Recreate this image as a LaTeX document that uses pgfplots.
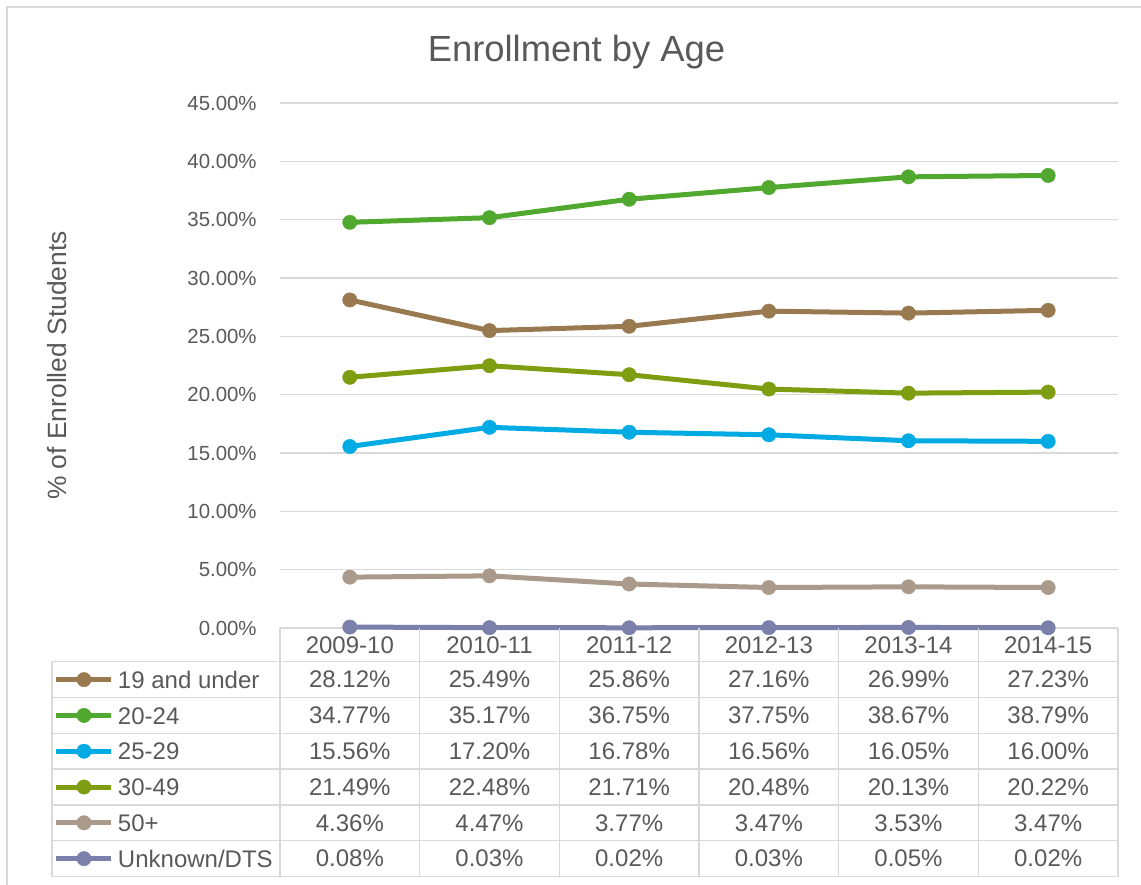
\documentclass[border=0pt]{standalone}
\usepackage{fontspec}
\setmainfont{Liberation Sans}
\usepackage{pgfplots}
\usepackage{pgfplotstable}
\pgfplotsset{compat=1.18}
\definecolor{txt}{HTML}{595959}
\definecolor{gridc}{HTML}{D9D9D9}
\definecolor{cA}{RGB}{153,121,79}
\definecolor{cB}{RGB}{80,168,46}
\definecolor{cC}{RGB}{0,170,227}
\definecolor{cD}{RGB}{127,157,16}
\definecolor{cE}{RGB}{170,154,140}
\definecolor{cF}{RGB}{122,128,170}
\pgfkeys{/pgf/number format/assume math mode=true}
\pgfplotstableread{
x a b c d e f
0 28.12 34.77 15.56 21.49 4.36 0.08
1 25.49 35.17 17.20 22.48 4.47 0.03
2 25.86 36.75 16.78 21.71 3.77 0.02
3 27.16 37.75 16.56 20.48 3.47 0.03
4 26.99 38.67 16.05 20.13 3.53 0.05
5 27.23 38.79 16.00 20.22 3.47 0.02
}\datatable
\begin{document}
\begin{tikzpicture}[font=\fontsize{12}{14}\selectfont, text=txt]
\useasboundingbox (-140pt,-128pt) rectangle (430.5pt,314pt);
\draw[gridc, line width=0.75pt] (-136.5pt,-130pt) -- (-136.5pt,310.5pt) -- (440pt,310.5pt);
\begin{axis}[
  at={(0pt,0pt)}, anchor=south west,
  scale only axis, width=419pt, height=262.5pt,
  xmin=-0.5, xmax=5.5, ymin=0, ymax=45,
  ytick={0,5,...,45}, xtick=\empty,
  axis line style={draw=none},
  ymajorgrids, grid style={gridc, line width=0.75pt},
  major tick length=0pt,
  yticklabel={\pgfmathprintnumber[fixed,fixed zerofill,precision=2]{\tick}\%},
  yticklabel style={font=\fontsize{10.2}{12}\selectfont, text=txt, inner sep=0pt, anchor=east, xshift=-11.5pt},
  title={Enrollment by Age},
  title style={at={(axis description cs:0.3538,1.0560)}, anchor=base, font=\fontsize{18.2}{22}\selectfont, text=txt, inner sep=0pt},
  ylabel={\% of Enrolled Students},
  ylabel style={at={(axis description cs:-0.2661,0.5)}, anchor=center, font=\fontsize{13.2}{16}\selectfont, text=txt, inner sep=0pt},
  clip=false,
  every axis plot/.append style={line width=2.5pt, mark=*, mark size=3.6pt, mark options={solid, line width=0.2pt}},
  legend image code/.code={\draw[mark repeat=2,mark phase=2,#1] plot coordinates {(0pt,0pt) (13.75pt,0pt) (27.5pt,0pt)};},
  legend style={at={(-0.2697,-0.06419)}, anchor=north west, draw=none, fill=none,
    inner sep=0pt, outer sep=0pt, row sep=0pt,
    font=\fontsize{12}{14}\selectfont, text=txt,
    nodes={inner xsep=2pt, inner ysep=0pt, text height=13.25pt, text depth=4.65pt}},
  legend cell align=left,
]
\addplot[color=cA] table[x=x,y=a] {\datatable};
\addlegendentry{19 and under}
\addplot[color=cB] table[x=x,y=b] {\datatable};
\addlegendentry{20-24}
\addplot[color=cC] table[x=x,y=c] {\datatable};
\addlegendentry{25-29}
\addplot[color=cD] table[x=x,y=d] {\datatable};
\addlegendentry{30-49}
\addplot[color=cE] table[x=x,y=e] {\datatable};
\addlegendentry{50+}
\addplot[color=cF] table[x=x,y=f] {\datatable};
\addlegendentry{Unknown/DTS}
\end{axis}
% data table grid
\foreach \k in {0,...,6} {
  \draw[gridc, line width=0.75pt] (-114pt,{-16.85pt-17.9pt*\k}) -- (419pt,{-16.85pt-17.9pt*\k});
  \draw[gridc, line width=0.75pt] ({\k*69.8333pt},0pt) -- ({\k*69.8333pt},-124.25pt);
}
\draw[gridc, line width=0.75pt] (-114pt,-16.85pt) -- (-114pt,-124.25pt);
\foreach \lab [count=\k from 0] in {2009-10,2010-11,2011-12,2012-13,2013-14,2014-15} {
  \node[inner sep=0pt] at ({\k*69.8333pt+34.9167pt},-8.4pt) {\lab};
}
\foreach \col [count=\r from 0] in {a,b,c,d,e,f} {
  \foreach \i in {0,...,5} {
    \pgfplotstablegetelem{\i}{\col}\of\datatable
    \node[inner sep=0pt] at ({\i*69.8333pt+34.9167pt},{-25.8pt-17.9pt*\r}) {\pgfmathprintnumber[fixed,fixed zerofill,precision=2]{\pgfplotsretval}\%};
  }
}
\end{tikzpicture}
\end{document}
